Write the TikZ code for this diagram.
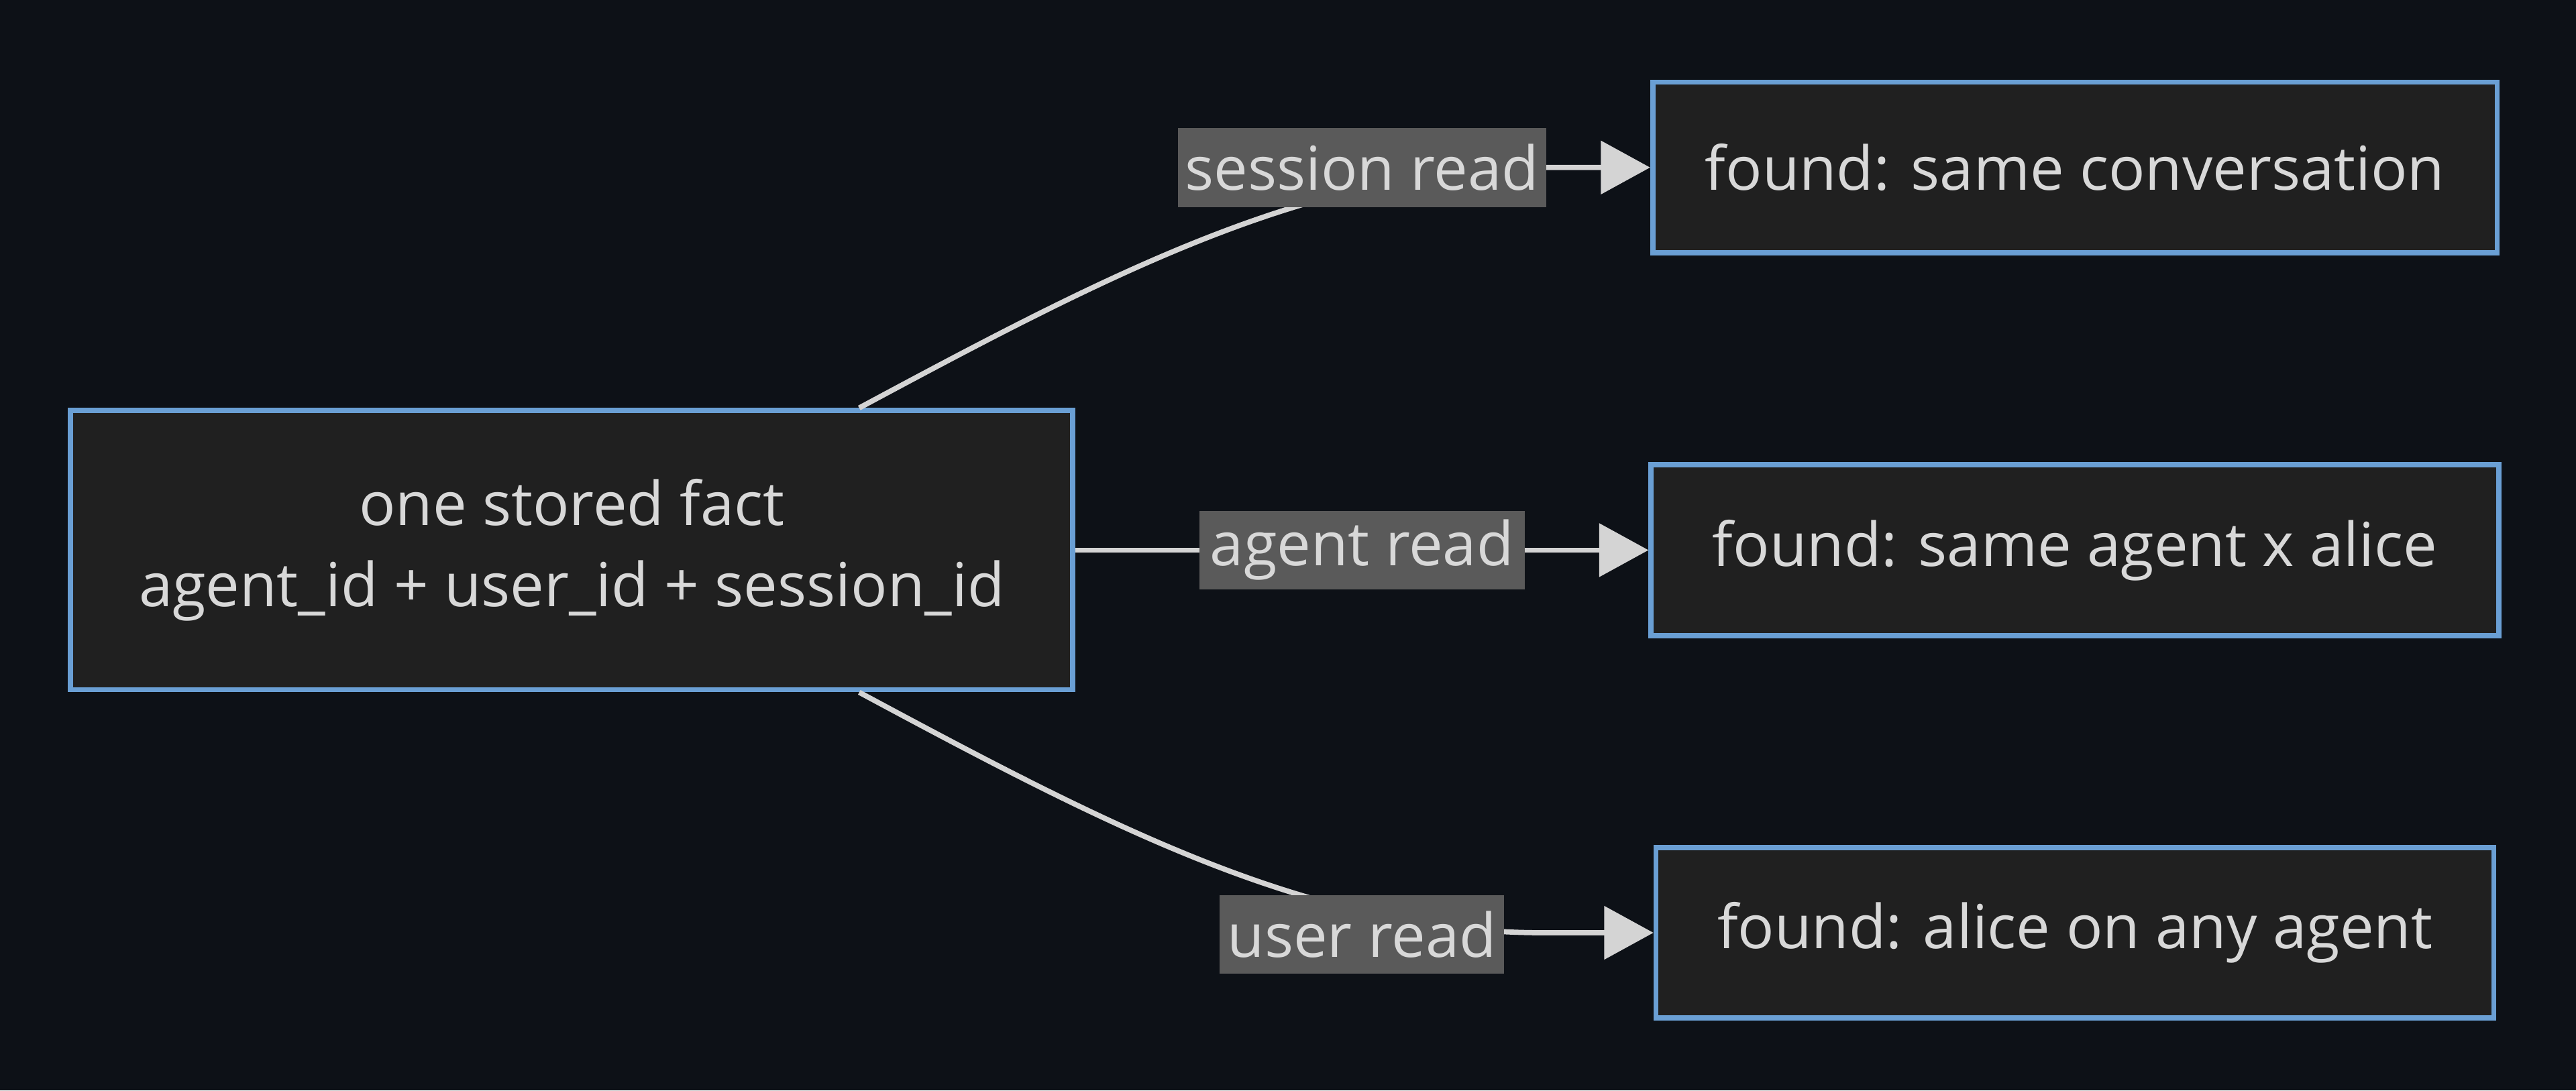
\documentclass[tikz,border=0pt]{standalone}
\usepackage{fontspec}
\setmainfont{Open Sans}
\usetikzlibrary{arrows.meta,calc}
\definecolor{bgcolor}{HTML}{0D1117}
\definecolor{boxfill}{HTML}{202020}
\definecolor{boxline}{HTML}{6A9FD4}
\definecolor{txtcolor}{HTML}{D8D8D8}
\definecolor{lblfill}{HTML}{5A5A5A}
\definecolor{edgecolor}{HTML}{D4D4D4}
\tikzset{
  box/.style={draw=boxline, fill=boxfill, line width=0.9pt, text=txtcolor,
    minimum height=1.04cm, inner sep=0pt, font=\fontsize{10.5pt}{12pt}\selectfont},
  lbl/.style={fill=lblfill, text=txtcolor, inner sep=0pt, minimum height=0.48cm,
    font=\fontsize{10.5pt}{12pt}\selectfont},
  link/.style={draw=edgecolor, line width=0.9pt, -{Triangle[length=0.3cm,width=0.32cm]}}
}
\begin{document}
\begin{tikzpicture}

    % Background
    \fill[bgcolor] (0, 0) rectangle (15.68, 6.64);

    % Stored fact
    \node[box, minimum width=6.10cm, minimum height=1.70cm, align=center] (fact) at (3.48, 3.29)
        {one stored fact\\[2pt]agent\_id + user\_id + session\_id};

    % Results
    \node[box, minimum width=5.14cm] (sconv) at (12.63, 5.62) {found: same conversation};
    \node[box, minimum width=5.16cm] (aconv) at (12.63, 3.29) {found: same agent x alice};
    \node[box, minimum width=5.10cm] (uconv) at (12.63, 0.96) {found: alice on any agent};

    % Reads
    \draw[link] ($(fact.north)+(1.75,0)$) .. controls (6.8, 5.0) and (8.0, 5.62) .. (9.4, 5.62) -- (sconv.west);
    \draw[link] (fact.east) -- (aconv.west);
    \draw[link] ($(fact.south)+(1.75,0)$) .. controls (6.8, 1.58) and (8.0, 0.96) .. (9.4, 0.96) -- (uconv.west);

    % Read labels
    \node[lbl, minimum width=2.24cm] (slbl) at (8.29, 5.62) {session read};
    \node[lbl, minimum width=1.98cm] (albl) at (8.29, 3.29) {agent read};
    \node[lbl, minimum width=1.73cm] (ulbl) at (8.29, 0.95) {user read};

\end{tikzpicture}
\end{document}
